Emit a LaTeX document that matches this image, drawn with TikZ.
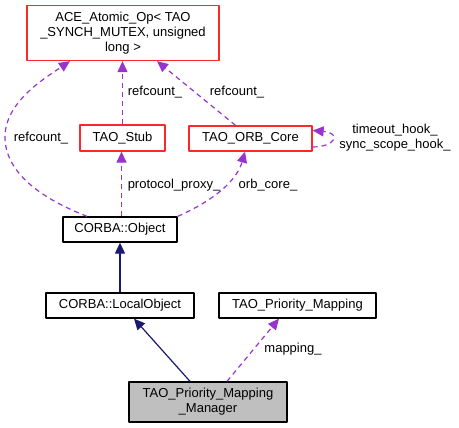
\documentclass[tikz,border=0pt]{standalone}
\usepackage{fontspec}
\setmainfont{Liberation Sans}
\usetikzlibrary{arrows.meta}
\definecolor{dep}{RGB}{154,50,205}
\definecolor{inh}{RGB}{25,25,112}
\definecolor{boxred}{RGB}{255,40,40}
\definecolor{mgrgray}{RGB}{191,191,191}
\begin{document}
\begin{tikzpicture}[x=1pt,y=-1pt,line join=round,font=\fontsize{13}{15}\selectfont,
	cls/.style={draw=black,line width=1.3pt,minimum height=25pt,inner sep=2pt,align=center},
	redcls/.style={cls,draw=boxred},
	uses/.style={dep,line width=1.2pt,dash pattern=on 5pt off 4pt,-{Triangle[length=11pt,width=10pt]}},
	isa/.style={inh,line width=1.2pt,-{Triangle[length=11pt,width=10pt]}},
	lbl/.style={inner sep=0pt,align=center}]
		\useasboundingbox (0,0) rectangle (459,428);
		% classes
		\node[redcls,minimum width=192pt,minimum height=55pt] (ace) at (123,33)
			{ACE\_Atomic\_Op< TAO\\\_SYNCH\_MUTEX, unsigned\\long >};
		\node[redcls,minimum width=85pt,minimum height=26pt] (stub) at (122.5,138) {TAO\_Stub};
		\node[redcls,minimum width=123pt] (orb) at (250.5,138.5) {TAO\_ORB\_Core};
		\node[cls,minimum width=114pt] (obj) at (120,229.5) {CORBA::Object};
		\node[cls,minimum width=148pt] (local) at (120,305.5) {CORBA::LocalObject};
		\node[cls,minimum width=157pt] (prio) at (297.5,305.5) {TAO\_Priority\_Mapping};
		\node[cls,fill=mgrgray,minimum width=158pt,minimum height=40pt] (mgr) at (208,402)
			{TAO\_Priority\_Mapping\\\_Manager};
		% dependencies
		\draw[uses] ([xshift=-33pt]obj.north) .. controls (40,198) and (5,172) .. (5,137)
			.. controls (5,102) and (45,78) .. ([xshift=-53pt]ace.south);
		\draw[uses] (stub.north) -- ([xshift=-0.5pt]ace.south);
		\draw[uses] ([xshift=-15pt]orb.north) -- ([xshift=34pt]ace.south);
		\draw[uses] ([xshift=1.5pt]obj.north) -- ([xshift=-1pt]stub.south);
		\draw[uses] (obj.north east) .. controls (215,200) and (237,180) .. ([xshift=-5.5pt]orb.south);
		\draw[uses] ([yshift=-8.5pt]orb.east) .. controls (335,147) and (342,133) .. ([yshift=8pt]orb.east);
		\draw[uses] ([xshift=19pt]mgr.north) -- ([xshift=-18.5pt]prio.south);
		% inheritance
		\draw[isa] (local.north) -- (obj.south);
		\draw[isa] ([xshift=-18pt]mgr.north) -- ([xshift=14pt]local.south);
		% edge labels
		\node[lbl] at (41,138) {refcount\_};
		\node[lbl] at (155,92) {refcount\_};
		\node[lbl] at (237,92) {refcount\_};
		\node[lbl] at (174,185) {protocol\_proxy\_};
		\node[lbl] at (268,185) {orb\_core\_};
		\node[lbl] at (395,138) {timeout\_hook\_\\sync\_scope\_hook\_};
		\node[lbl] at (293,349) {mapping\_};
\end{tikzpicture}
\end{document}
